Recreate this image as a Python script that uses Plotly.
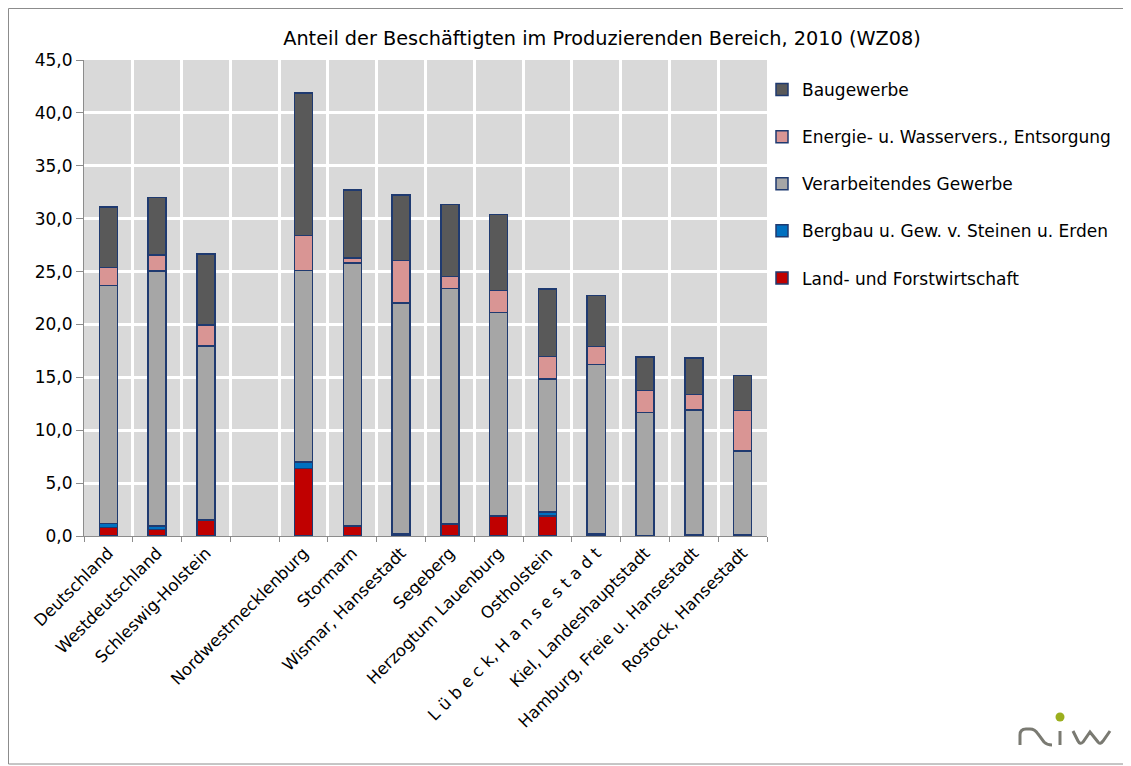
import plotly.graph_objects as go

categories = ["Deutschland", "Westdeutschland", "Schleswig-Holstein", " ",
              "Nordwestmecklenburg", "Stormarn", "Wismar, Hansestadt", "Segeberg",
              "Herzogtum Lauenburg", "Ostholstein", "L ü b e c k, H a n s e s t a d t",
              "Kiel, Landeshauptstadt", "Hamburg, Freie u. Hansestadt", "Rostock, Hansestadt"]

land =    [0.8, 0.6, 1.5, None, 6.4, 0.95, 0.2, 1.1, 1.9, 1.9, 0.2, 0.05, 0.1, 0.1]
bergbau = [0.4, 0.35, 0.05, None, 0.6, 0.05, 0.05, 0.1, 0.05, 0.35, 0.02, 0.02, 0.02, 0.02]
verarb =  [22.5, 24.1, 16.4, None, 18.1, 24.8, 21.8, 22.2, 19.2, 12.6, 16.0, 11.6, 11.8, 7.9]
energie = [1.7, 1.5, 2.0, None, 3.3, 0.5, 4.0, 1.15, 2.05, 2.1, 1.7, 2.1, 1.45, 3.85]
bau =     [5.7, 5.45, 6.7, None, 13.5, 6.4, 6.2, 6.8, 7.2, 6.4, 4.8, 3.15, 3.45, 3.3]

series_names = ["Land- und Forstwirtschaft", "Bergbau u. Gew. v. Steinen u. Erden",
                "Verarbeitendes Gewerbe", "Energie- u. Wasservers., Entsorgung", "Baugewerbe"]
series_values = [land, bergbau, verarb, energie, bau]
series_colors = ["#C00000", "#0070C0", "#A6A6A6", "#D99594", "#595959"]

title_text = "Anteil der Beschäftigten im Produzierenden Bereich, 2010 (WZ08)"
y_ticks = [0, 5, 10, 15, 20, 25, 30, 35, 40, 45]

FONT = "DejaVu Sans"
OFF = 8                      # page body margin
W, H = 1131 - OFF, 766 - OFF  # figure size
# plot area in screen pixels
SL, SR, ST, SB = 84, 767, 60, 536
L, R, T, B = SL - OFF, SR - OFF, ST - OFF, SB - OFF


def sx(x):
    return (x - OFF - L) / (R - L)


def sy(y):
    return (B - (y - OFF)) / (B - T)


def P(x, y):
    return f"{sx(x):.5f},{sy(y):.5f}"


fig = go.Figure()
n = len(series_names)
for i, (name, vals, col) in enumerate(zip(series_names, series_values, series_colors)):
    fig.add_trace(go.Bar(
        x=categories, y=vals, name=name, legendgroup=name, legendrank=n - i,
        marker=dict(color=col, line=dict(color="#1F3A70", width=1.5)),
    ))

shapes = []
# outer border of the chart
shapes.append(dict(type="rect", xref="paper", yref="paper",
                   x0=sx(OFF + 0.5), x1=sx(1128), y0=sy(764), y1=sy(OFF + 0.5),
                   line=dict(color="#8C8C8C", width=1), fillcolor="rgba(0,0,0,0)", layer="below"))

# logo (niw)
logo_col = "#7A7A72"
n_path = ("M " + P(1020, 745) + " L " + P(1020, 735) + " Q " + P(1020, 729) + " " + P(1026, 729)
          + " L " + P(1030, 729) + " Q " + P(1035, 729) + " " + P(1038, 734)
          + " L " + P(1044, 742) + " Q " + P(1047, 745) + " " + P(1052, 745))
i_path = "M " + P(1060, 731) + " L " + P(1060, 745)
w_path = ("M " + P(1073, 731) + " L " + P(1078, 741) + " Q " + P(1080, 745) + " " + P(1083, 742)
          + " L " + P(1090, 732) + " L " + P(1098, 742) + " Q " + P(1100, 745) + " " + P(1103, 741)
          + " L " + P(1110, 731))
for p in (n_path, i_path, w_path):
    shapes.append(dict(type="path", xref="paper", yref="paper", path=p,
                       line=dict(color=logo_col, width=3)))
shapes.append(dict(type="circle", xref="paper", yref="paper",
                   x0=sx(1055.5), x1=sx(1064.5), y0=sy(721.5), y1=sy(712.5),
                   fillcolor="#9BAF1E", line=dict(width=0)))

fig.update_layout(
    width=W, height=H,
    barmode="stack", bargap=0.63,
    separators=", ",
    paper_bgcolor="white", plot_bgcolor="#D9D9D9",
    margin=dict(l=L, r=W - R, t=T, b=H - B, autoexpand=False),
    font=dict(family=FONT, size=16, color="#000000"),
    title=dict(text=title_text, x=(602 - OFF) / W, xref="container", xanchor="center",
               y=1 - (38 - OFF) / H, yref="container", yanchor="middle",
               font=dict(family=FONT, size=19.3, color="#000000")),
    legend=dict(x=sx(762), y=sy(72), xanchor="left", yanchor="top",
                traceorder="grouped", tracegroupgap=22,
                font=dict(family=FONT, size=17), bgcolor="rgba(0,0,0,0)"),
    xaxis=dict(type="category", tickson="boundaries", showgrid=True, gridcolor="white",
               gridwidth=3, tickangle=-45, ticks="outside", ticklen=5, tickcolor="#8C8C8C",
               showline=True, linecolor="#8C8C8C", linewidth=1,
               tickfont=dict(family=FONT, size=16.5), range=[-0.5, 13.5]),
    yaxis=dict(range=[0, 45], tickvals=y_ticks, tickformat=".1f", showgrid=True,
               gridcolor="white", gridwidth=3, ticks="outside", ticklen=7,
               tickcolor="#8C8C8C", showline=True, linecolor="#8C8C8C", linewidth=1,
               tickfont=dict(family=FONT, size=17), zeroline=False),
    shapes=shapes,
)

fig.write_html("out.html")
